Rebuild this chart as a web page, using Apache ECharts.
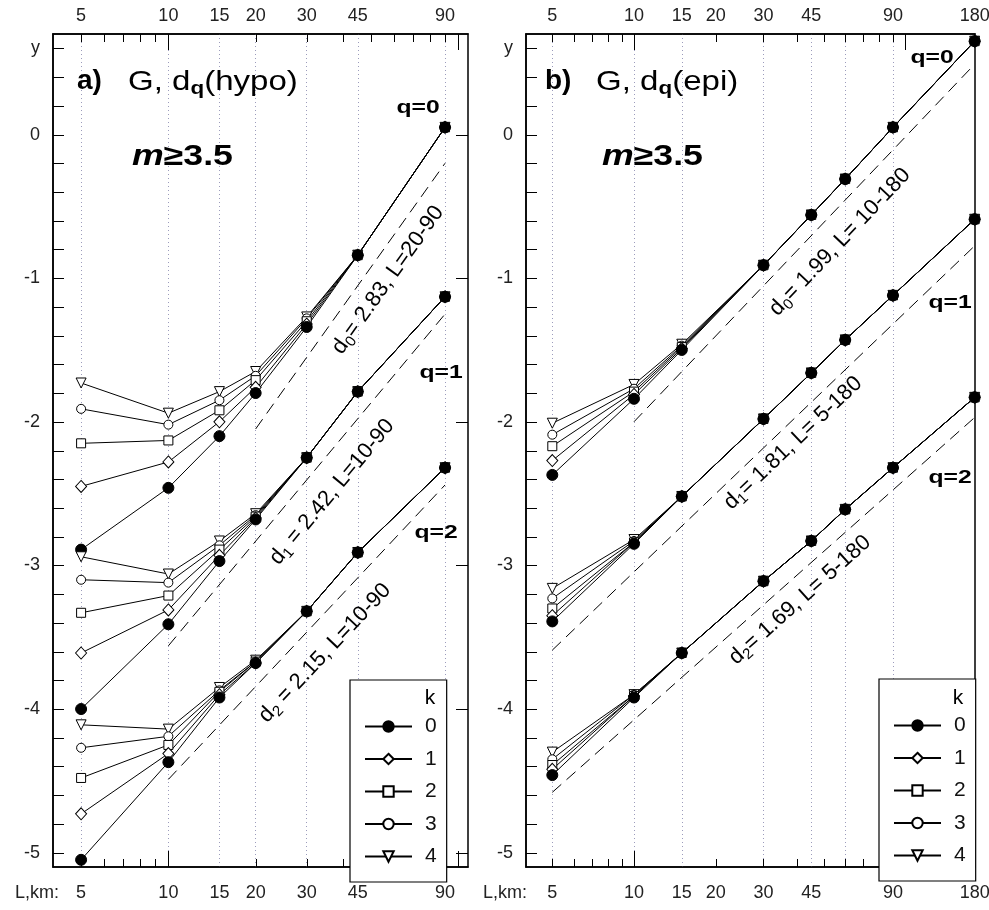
<!DOCTYPE html>
<html>
<head>
<meta charset="utf-8">
<title>G, dq (hypo / epi)</title>
<script src="https://cdn.jsdelivr.net/npm/echarts@6/dist/echarts.min.js"></script>
<style>
  html, body { margin: 0; padding: 0; background: #fff; }
  #chart { width: 989px; height: 910px; }
  #err { position: absolute; left: 60px; top: 190px; max-width: 380px; font: 11px monospace; color: #c00; background: #fff; white-space: pre-wrap; }
</style>
</head>
<body>
<div id="chart"></div>
<div id="err"></div>
<script>
const errs = []
window.addEventListener('error', e => errs.push('window: ' + e.message))
const origErr = console.error
console.error = (...a) => { errs.push('console: ' + a.join(' ')); origErr.apply(console, a) }

// distances L (km) where G was computed
const hypoL = [5, 10, 15, 20, 30, 45, 90];
const epiL = [5, 10, 15, 30, 45, 60, 90, 180];

// panel a) hypocentral, rows = k 0..4
const hypoQ0 = [
	[-2.89, -2.46, -2.10, -1.80, -1.34, -0.84, 0.05],
	[-2.45, -2.28, -2.00, -1.76, -1.32, -0.84, 0.05],
	[-2.15, -2.13, -1.92, -1.71, -1.30, -0.84, 0.05],
	[-1.91, -2.02, -1.85, -1.68, -1.28, -0.84, 0.05],
	[-1.73, -1.94, -1.79, -1.65, -1.27, -0.84, 0.05]
]
const hypoQ1 = [
	[-4.00, -3.41, -2.97, -2.68, -2.25, -1.79, -1.13],
	[-3.61, -3.31, -2.93, -2.67, -2.25, -1.79, -1.13],
	[-3.33, -3.21, -2.89, -2.66, -2.25, -1.79, -1.13],
	[-3.10, -3.12, -2.86, -2.65, -2.25, -1.79, -1.13],
	[-2.94, -3.06, -2.83, -2.64, -2.25, -1.79, -1.13]
]
const hypoQ2 = [
	[-5.05, -4.37, -3.92, -3.68, -3.32, -2.91, -2.32],
	[-4.73, -4.31, -3.90, -3.68, -3.32, -2.91, -2.32],
	[-4.48, -4.25, -3.88, -3.67, -3.32, -2.91, -2.32],
	[-4.27, -4.19, -3.87, -3.67, -3.32, -2.91, -2.32],
	[-4.11, -4.14, -3.85, -3.66, -3.32, -2.91, -2.32]
]

// panel b) epicentral
const epiQ0 = [
	[-2.37, -1.84, -1.50, -0.91, -0.56, -0.31, 0.05, 0.65],
	[-2.27, -1.81, -1.49, -0.91, -0.56, -0.31, 0.05, 0.65],
	[-2.17, -1.79, -1.48, -0.91, -0.56, -0.31, 0.05, 0.65],
	[-2.09, -1.77, -1.47, -0.91, -0.56, -0.31, 0.05, 0.65],
	[-2.01, -1.74, -1.46, -0.91, -0.56, -0.31, 0.05, 0.65]
]
const epiQ1 = [
	[-3.39, -2.85, -2.52, -1.98, -1.66, -1.43, -1.12, -0.59],
	[-3.35, -2.84, -2.52, -1.98, -1.66, -1.43, -1.12, -0.59],
	[-3.30, -2.84, -2.52, -1.98, -1.66, -1.43, -1.12, -0.59],
	[-3.23, -2.83, -2.52, -1.98, -1.66, -1.43, -1.12, -0.59],
	[-3.16, -2.82, -2.52, -1.98, -1.66, -1.43, -1.12, -0.59]
]
const epiQ2 = [
	[-4.46, -3.92, -3.61, -3.11, -2.83, -2.61, -2.32, -1.83],
	[-4.42, -3.91, -3.61, -3.11, -2.83, -2.61, -2.32, -1.83],
	[-4.39, -3.91, -3.61, -3.11, -2.83, -2.61, -2.32, -1.83],
	[-4.35, -3.90, -3.61, -3.11, -2.83, -2.61, -2.32, -1.83],
	[-4.30, -3.90, -3.61, -3.11, -2.83, -2.61, -2.32, -1.83]
]

// dashed fit lines (end points), one per q
const hypoFitL = [[20, 90], [10, 90], [10, 90]]
const hypoFitY = [[-2.05, -0.20], [-3.56, -1.25], [-4.49, -2.44]]
const epiFitL = [[10, 180], [5, 180], [5, 180]]
const epiFitY = [[-2.00, 0.49], [-3.59, -0.775], [-4.58, -1.97]]

// axis ticks / labels
const hypoXLabels = [5, 10, 15, 20, 30, 45, 90]
const epiXLabels = [5, 10, 15, 20, 30, 45, 90, 180]
const hypoGridLines = [5, 10, 15, 20, 30, 45, 90]
const epiGridLines = [5, 10, 15, 30, 45, 60, 90]
const xMinorTicks = [5, 6, 7, 8, 9, 20, 30, 40, 50, 60, 70, 80, 90]
const xMajorTicks = [10, 100]
const yTickLabels = [-5, -4, -3, -2, -1, 0]
const yMinorTicks = [-5, -4.8, -4.6, -4.4, -4.2, -4, -3.8, -3.6, -3.4, -3.2, -3, -2.8, -2.6, -2.4, -2.2,
	-2, -1.8, -1.6, -1.4, -1.2, -1, -0.8, -0.6, -0.4, -0.2, 0, 0.2, 0.4, 0.6]
const kNames = ['0', '1', '2', '3', '4']
const Y_MIN = -5.1
const Y_MAX = 0.7
const X_MIN = 4

const FONT = '"Liberation Sans", Arial, sans-serif'
const kSymbols = ['circle', 'diamond', 'rect', 'circle', 'triangle']
const kSizes = [11, [11, 12], 9, 9, 10]
const kRotate = [0, 0, 0, 0, 180]
// tick length by kind: x minor, x major, y left, y right
const TICK_LEN = [8, 16, 11, 12]

const buildSeries = (xIdx, yIdx, Ls, qSets) => {
	const out = []
	qSets.forEach(q => {
		// k=0 drawn last so the black dots sit on top
		for (let k = 4; k >= 0; k--) {
			out.push({
				type: 'line',
				name: kNames[k],
				xAxisIndex: xIdx,
				yAxisIndex: yIdx,
				data: Ls.map((l, i) => [l, q[k][i]]),
				symbol: kSymbols[k],
				symbolSize: kSizes[k],
				symbolRotate: kRotate[k],
				showSymbol: true,
				lineStyle: { color: '#000', width: 1 },
				itemStyle: { color: k === 0 ? '#000' : '#fff', borderColor: '#000', borderWidth: 1 },
				emphasis: { disabled: true },
				z: 3
			})
		}
	})
	return out
}

const buildFits = (xIdx, yIdx, fitL, fitY) => fitL.map((ls, i) => ({
	type: 'line',
	name: 'fit',
	xAxisIndex: xIdx,
	yAxisIndex: yIdx,
	data: [[ls[0], fitY[i][0]], [ls[1], fitY[i][1]]],
	symbol: 'none',
	silent: true,
	lineStyle: { color: '#000', width: 1, type: [12, 7] },
	z: 2
}))

// inward tick marks as a custom series, placed with api.coord
const buildTicks = (xIdx, yIdx, xMax, withRight) => ({
	type: 'custom',
	name: 'ticks',
	xAxisIndex: xIdx,
	yAxisIndex: yIdx,
	silent: true,
	clip: false,
	z: 4,
	encode: { x: 0, y: 1 },
	data: [
		...xMinorTicks.map(v => [v, Y_MIN, 0]),
		...xMajorTicks.map(v => [v, Y_MIN, 1]),
		...yMinorTicks.map(v => [X_MIN, v, 2]),
		...(withRight ? yTickLabels.map(v => [xMax, v, 3]) : [])
	],
	renderItem: (params, api) => {
		const kind = api.value(2)
		const len = TICK_LEN[kind]
		const st = { stroke: '#000', lineWidth: 1, fill: null }
		if (kind < 2) {
			const b = api.coord([api.value(0), Y_MIN])
			const t = api.coord([api.value(0), Y_MAX])
			const x = Math.round(b[0]) + 0.5
			return {
				type: 'group',
				children: [
					{ type: 'line', shape: { x1: x, y1: b[1], x2: x, y2: b[1] - len }, style: st },
					{ type: 'line', shape: { x1: x, y1: t[1], x2: x, y2: t[1] + len }, style: st }
				]
			}
		}
		const p = api.coord([api.value(0), api.value(1)])
		const y = Math.round(p[1]) + 0.5
		const dir = kind === 2 ? 1 : -1
		return { type: 'line', shape: { x1: p[0], y1: y, x2: p[0] + dir * len, y2: y }, style: st }
	}
})

const labelStyle = { fontSize: 18, color: '#222', fontFamily: FONT }
const frame = { show: true, onZero: false, lineStyle: { color: '#000', width: 1.5 } }

// bottom axis carries labels + dotted grid lines, top axis the labels only
const buildXAxes = (gridIndex, max, labels, gridLines) => [
	{
		type: 'log', logBase: 10, gridIndex, min: X_MIN, max, position: 'bottom',
		axisLine: frame,
		axisTick: { show: false, customValues: gridLines },
		splitLine: { show: true, lineStyle: { type: [1, 3], color: '#9c9cbc', width: 1 } },
		axisLabel: { show: true, customValues: labels, margin: 17, ...labelStyle }
	},
	{
		type: 'log', logBase: 10, gridIndex, min: X_MIN, max, position: 'top',
		axisLine: frame,
		axisTick: { show: false },
		splitLine: { show: false },
		axisLabel: { show: true, customValues: labels, margin: 9, ...labelStyle }
	}
]

const buildYAxis = gridIndex => ({
	type: 'value', gridIndex, position: 'left', min: Y_MIN, max: Y_MAX,
	axisLine: frame,
	splitLine: { show: false },
	axisTick: { show: false },
	axisLabel: {
		customValues: yTickLabels.concat([0.6]),
		formatter: v => (v > 0.5 ? 'y' : String(v)),
		margin: 13, ...labelStyle
	}
})

const legendBox = (left, top) => ({
	left, top,
	orient: 'vertical',
	data: kNames,
	selectedMode: false,
	itemWidth: 47,
	itemHeight: 13,
	itemGap: 11.5,
	padding: [36, 10, 15, 14],
	borderColor: '#000',
	borderWidth: 1.2,
	borderRadius: 0,
	backgroundColor: '#fff',
	textStyle: { fontSize: 21, color: '#111', fontFamily: FONT, padding: [0, 0, 0, 8] },
	z: 6
})

// text helpers for the graphic layer
const text = (x, y, str, style, extra) => ({
	type: 'text', x, y, silent: true, z: 10,
	style: { text: str, fill: '#000', fontFamily: FONT, fontSize: 18, align: 'center', verticalAlign: 'middle', ...style },
	...extra
})

const fitLabel = (x, y, sub, rest, deg, size) => text(x, y, '{d|d}{s|' + sub + '}{d|' + rest + '}', {
	rich: {
		d: { fontSize: size, fontFamily: FONT, fill: '#000' },
		s: { fontSize: Math.round(size * 0.68), fontFamily: FONT, fill: '#000', padding: [12, 0, 0, 0] }
	}
}, { rotation: deg * Math.PI / 180 })

const title = (x, tag, rest) => [
	text(x, 81, tag, { fontSize: 28, fontWeight: 'bold', align: 'left' }),
	text(x + 51, 82, '{n|G, d}{s|q}{n|' + rest + '}', {
		align: 'left',
		rich: {
			n: { fontSize: 28, fontFamily: FONT, fill: '#000' },
			s: { fontSize: 19, fontWeight: 'bold', fontFamily: FONT, fill: '#000', padding: [14, 0, 0, 0] }
		}
	}, { scaleX: 1.18 })
]

const magnitude = x => text(x, 157, '{m|m}{r|≥3.5}', {
	align: 'left',
	rich: {
		m: { fontSize: 29, fontWeight: 'bold', fontStyle: 'italic', fontFamily: FONT, fill: '#000' },
		r: { fontSize: 29, fontWeight: 'bold', fontFamily: FONT, fill: '#000' }
	}
}, { scaleX: 1.23 })

const qLabel = (x, y, s) => text(x, y, s, { fontSize: 19, fontWeight: 'bold' }, { scaleX: 1.3 })

const graphics = [
	...title(77, 'a)', '(hypo)'),
	...title(545, 'b)', '(epi)'),
	magnitude(132),
	magnitude(602),
	qLabel(418, 108, 'q=0'),
	qLabel(441, 373, 'q=1'),
	qLabel(436, 533, 'q=2'),
	qLabel(932, 58, 'q=0'),
	qLabel(950, 303, 'q=1'),
	qLabel(950, 478, 'q=2'),
	fitLabel(388, 280, '0', '= 2.83, L=20-90', 54.5, 22),
	fitLabel(332, 492, '1', ' = 2.42, L=10-90', 50.2, 22),
	fitLabel(325, 653, '2', ' = 2.15, L=10-90', 46.8, 22),
	fitLabel(840, 242, '0', '= 1.99, L= 10-180', 46.5, 22),
	fitLabel(793, 443, '1', '= 1.81, L= 5-180', 43.7, 22),
	fitLabel(800, 600, '2', '= 1.69, L= 5-180', 41.8, 22),
	text(430, 698, 'k', { fontSize: 21 }),
	text(958, 698, 'k', { fontSize: 21 }),
	text(15, 893, 'L,km:', { align: 'left', fill: '#222' }),
	text(483, 893, 'L,km:', { align: 'left', fill: '#222' })
]

const chart = echarts.init(document.getElementById('chart'))

try {
	chart.setOption({
		animation: false,
		backgroundColor: '#fff',
		grid: [
			{ left: 53, top: 34, width: 415, height: 833, show: true, borderColor: '#000', borderWidth: 1.5, backgroundColor: 'rgba(0,0,0,0)', outerBoundsMode: 'none' },
			{ left: 526, top: 34, width: 449, height: 833, show: true, borderColor: '#000', borderWidth: 1.5, backgroundColor: 'rgba(0,0,0,0)', outerBoundsMode: 'none' }
		],
		xAxis: [
			...buildXAxes(0, 108, hypoXLabels, hypoGridLines),
			...buildXAxes(1, 180.5, epiXLabels, epiGridLines)
		],
		yAxis: [buildYAxis(0), buildYAxis(1)],
		legend: [legendBox(350, 680), legendBox(879, 679)],
		series: [
			buildTicks(0, 0, 108, true),
			buildTicks(2, 1, 180.5, false),
			...buildFits(0, 0, hypoFitL, hypoFitY),
			...buildFits(2, 1, epiFitL, epiFitY),
			...buildSeries(0, 0, hypoL, [hypoQ0, hypoQ1, hypoQ2]),
			...buildSeries(2, 1, epiL, [epiQ0, epiQ1, epiQ2])
		],
		graphic: graphics
	})
} catch (e) {
	errs.push('setOption: ' + e.message)
}

if (errs.length) document.getElementById('err').textContent = errs.join('\n')

window.addEventListener('resize', () => chart.resize())
</script>
</body>
</html>
